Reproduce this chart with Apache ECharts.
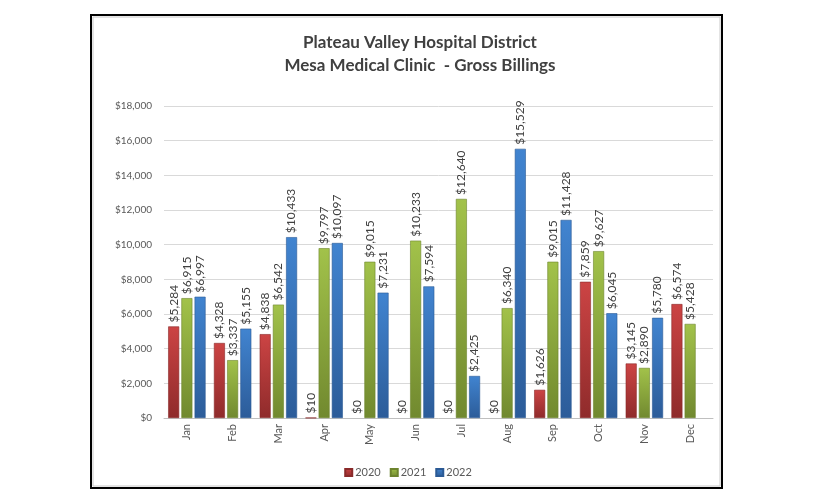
<!DOCTYPE html>
<html><head><meta charset="utf-8">
<script src="https://cdn.jsdelivr.net/npm/echarts@6/dist/echarts.min.js"></script>
<style>html,body{margin:0;padding:0;background:#fff}#c{width:816px;height:504px}</style>
</head><body><div id="c"></div>
<script>
const months = ['Jan','Feb','Mar','Apr','May','Jun','Jul','Aug','Sep','Oct','Nov','Dec'];
const seriesNames = ['2020','2021','2022'];
const v2020 = [5284, 4328, 4838, 10, 0, 0, 0, 0, 1626, 7859, 3145, 6574];
const v2021 = [6915, 3337, 6542, 9797, 9015, 10233, 12640, 6340, 9015, 9627, 2890, 5428];
const v2022 = [6997, 5155, 10433, 10097, 7231, 7594, 2425, 15529, 11428, 6045, 5780, null];
const yTicks = {min: 0, max: 18000, interval: 2000};

const FONT = 'Lato, "Open Sans", sans-serif';
function grad(top, bottom) {
  return new echarts.graphic.LinearGradient(0, 0, 0, 1, [
    {offset: 0, color: top}, {offset: 1, color: bottom}
  ]);
}
const styles = [
  {c: grad('#cc4444', '#8f2b2b'), b: '#8a2a2a'},
  {c: grad('#a2c24a', '#71892f'), b: '#6d842e'},
  {c: grad('#4184d0', '#2c5c99'), b: '#2b5a95'}
];
const fmt = v => '$' + v.toLocaleString('en-US');
const data = [v2020, v2021, v2022];

const chart = echarts.init(document.getElementById('c'), null, {renderer: 'canvas'});
chart.setOption({
  animation: false,
  backgroundColor: '#fff',
  graphic: [{
    type: 'rect', shape: {x: 91, y: 15, width: 631, height: 473},
    style: {fill: 'none', stroke: '#000', lineWidth: 2}, z: 100
  }, {
    type: 'rect', shape: {x: 93, y: 17, width: 627, height: 469},
    style: {fill: 'none', stroke: '#c8c8c8', lineWidth: 1}, z: 100
  }],
  title: {
    text: 'Plateau Valley Hospital District\nMesa Medical Clinic  - Gross Billings',
    left: 415, top: 26, textAlign: 'center',
    textStyle: {fontFamily: FONT, fontSize: 17, fontWeight: 'bold', color: '#404040', lineHeight: 23}
  },
  legend: {
    data: seriesNames, left: 'center', top: 462, itemWidth: 7, itemHeight: 7, itemGap: 9,
    icon: 'rect',
    textStyle: {fontFamily: FONT, fontSize: 11, color: '#595959', padding: [0,0,0,-2]}
  },
  grid: {left: 164, right: 103, top: 106, bottom: 86, containLabel: false},
  xAxis: {
    type: 'category', data: months,
    axisLine: {lineStyle: {color: '#bfbfbf'}},
    axisTick: {show: false},
    axisLabel: {rotate: 90, fontFamily: FONT, fontSize: 11, color: '#595959', margin: 6}
  },
  yAxis: {
    type: 'value', min: yTicks.min, max: yTicks.max, interval: yTicks.interval,
    axisLine: {show: false}, axisTick: {show: false},
    splitLine: {lineStyle: {color: '#d9d9d9'}},
    axisLabel: {formatter: fmt, fontFamily: FONT, fontSize: 10, color: '#595959', margin: 12}
  },
  series: data.map((d, i) => ({
    name: seriesNames[i], type: 'bar',
    data: d.map(v => (v === 0 ? {value: 0, itemStyle: {borderWidth: 0, opacity: 0}} : v)),
    barWidth: 11, barGap: '20%',
    itemStyle: {color: styles[i].c, borderColor: styles[i].b, borderWidth: 0.6},
    label: {
      show: true, position: 'top', rotate: 90, align: 'left', verticalAlign: 'middle',
      distance: 4, formatter: p => fmt(p.value),
      fontFamily: FONT, fontSize: 12, color: '#404040', opacity: 1
    }
  }))
});
</script></body></html>
